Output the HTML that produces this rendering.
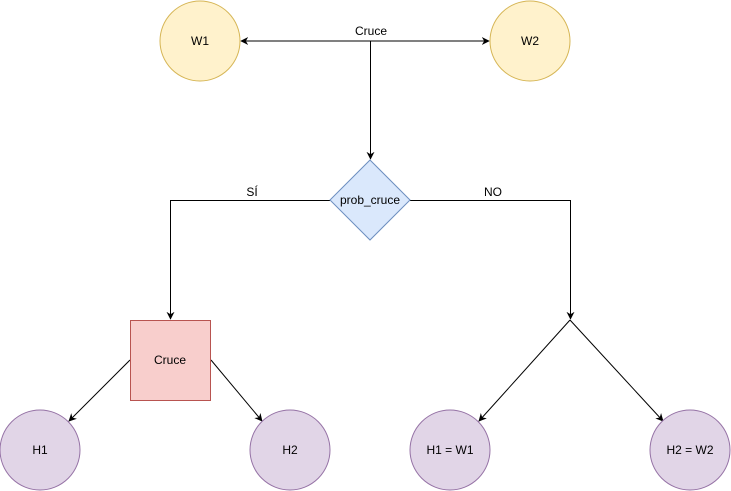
<!DOCTYPE html>
<html><head><meta charset="utf-8"><style>
html,body{margin:0;padding:0;background:#fff;}
svg{display:block;}
text{font-family:"Liberation Sans",Helvetica,sans-serif;font-size:12px;fill:#000;}
</style></head><body>
<svg width="731" height="491" viewBox="0 0 731 491" xmlns="http://www.w3.org/2000/svg">
<defs>
<marker id="a" viewBox="0 0 10 10" refX="9" refY="5" markerWidth="8" markerHeight="8" orient="auto-start-reverse" markerUnits="userSpaceOnUse">
<path d="M0,0 L10,5 L0,10 L3,5 Z" fill="#000"/>
</marker>
</defs>
<g stroke="#000" stroke-width="1" fill="none">
<line x1="241" y1="41" x2="489" y2="41" marker-start="url(#a)" marker-end="url(#a)"/>
<line x1="370.5" y1="41" x2="370.5" y2="159" marker-end="url(#a)"/>
<polyline points="330,200.5 170.5,200.5 170.5,319" marker-end="url(#a)"/>
<polyline points="410,200.5 570.5,200.5 570.5,319" marker-end="url(#a)"/>
<line x1="130" y1="360" x2="69" y2="421" marker-end="url(#a)"/>
<line x1="211" y1="360" x2="262" y2="421" marker-end="url(#a)"/>
<line x1="570" y1="320" x2="479" y2="421" marker-end="url(#a)"/>
<line x1="570" y1="320" x2="663" y2="421" marker-end="url(#a)"/>
</g>
<circle cx="200" cy="41" r="40" fill="#fff2cc" stroke="#d6b656"/>
<circle cx="530" cy="41" r="40" fill="#fff2cc" stroke="#d6b656"/>
<polygon points="370,160 410,200 370,240 330,200" fill="#dae8fc" stroke="#6c8ebf"/>
<rect x="130.5" y="320.5" width="80" height="80" fill="#f8cecc" stroke="#b85450"/>
<circle cx="40" cy="450" r="40" fill="#e1d5e7" stroke="#9673a6"/>
<circle cx="290" cy="450" r="40" fill="#e1d5e7" stroke="#9673a6"/>
<circle cx="450" cy="450" r="40" fill="#e1d5e7" stroke="#9673a6"/>
<circle cx="690" cy="450" r="40" fill="#e1d5e7" stroke="#9673a6"/>
<rect x="352" y="24" width="38" height="14" fill="#fff"/>
<text x="371" y="35" text-anchor="middle">Cruce</text>
<text x="200" y="45" text-anchor="middle">W1</text>
<text x="530" y="45" text-anchor="middle">W2</text>
<text x="370" y="204" text-anchor="middle">prob_cruce</text>
<text x="252" y="196" text-anchor="middle">SÍ</text>
<text x="493" y="196" text-anchor="middle">NO</text>
<text x="170" y="364" text-anchor="middle">Cruce</text>
<text x="40" y="454" text-anchor="middle">H1</text>
<text x="290" y="454" text-anchor="middle">H2</text>
<text x="450" y="454" text-anchor="middle">H1 = W1</text>
<text x="690" y="454" text-anchor="middle">H2 = W2</text>
</svg>
</body></html>
